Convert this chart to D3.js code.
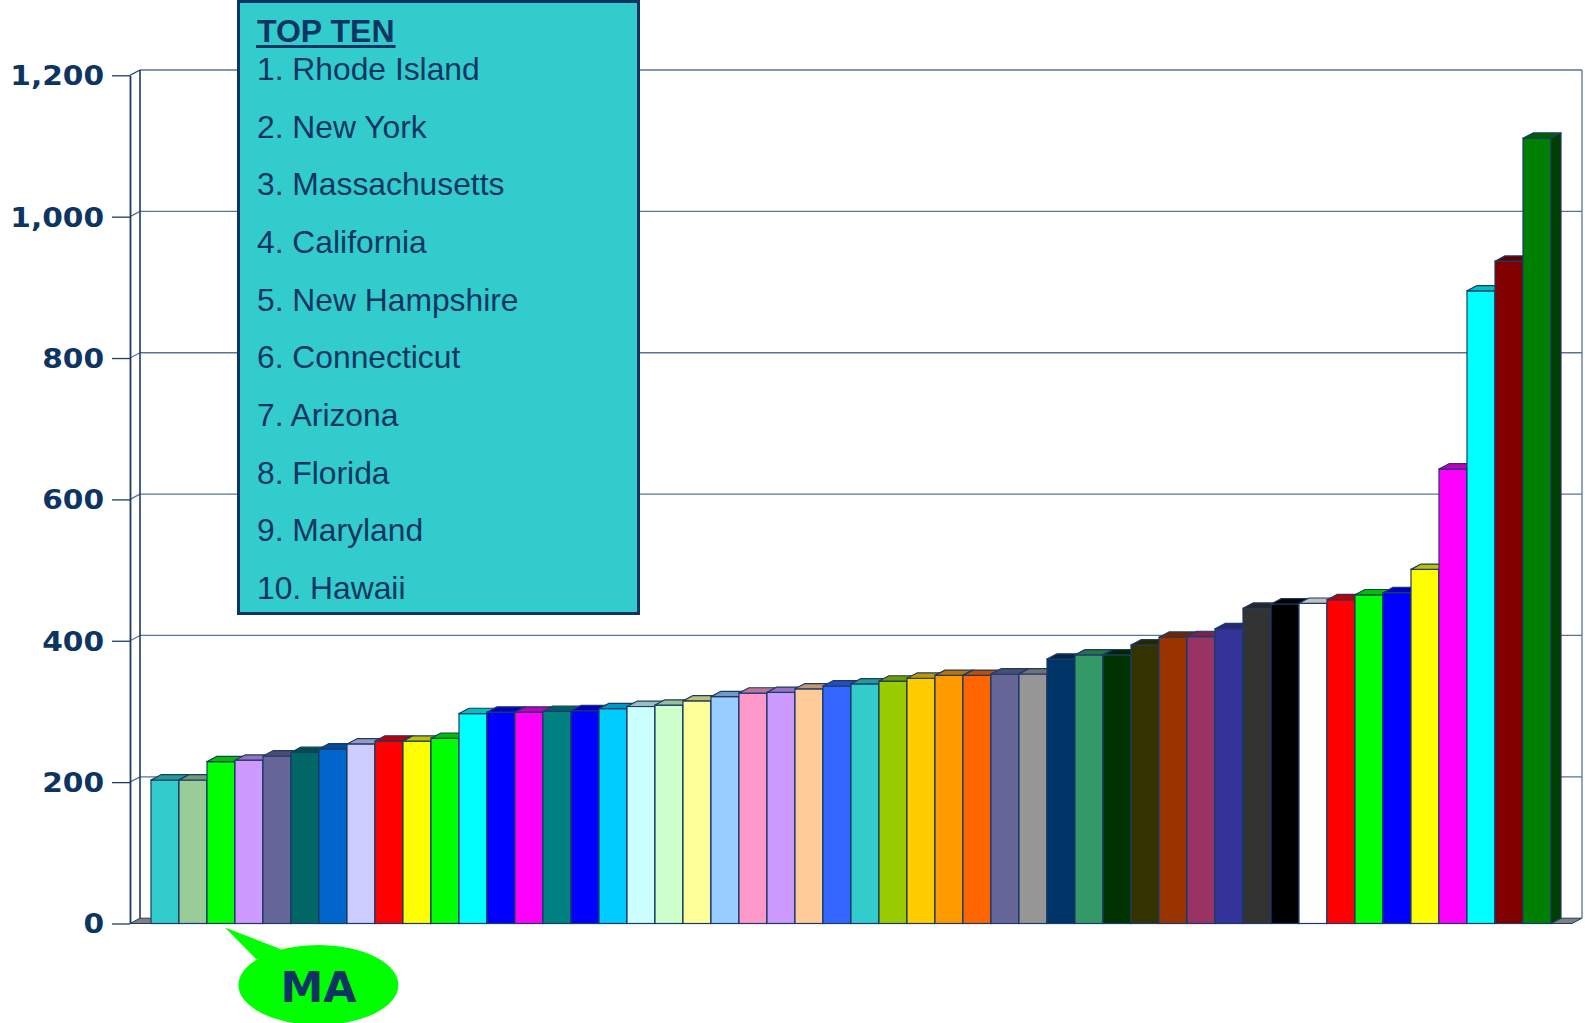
<!DOCTYPE html>
<html>
<head>
<meta charset="utf-8">
<script src="https://cdn.jsdelivr.net/npm/d3@7"></script>
<style>
  html, body { margin: 0; padding: 0; background: #ffffff; }
  svg { display: block; }
</style>
</head>
<body>
<svg id="chart" width="1585" height="1023"></svg>
<script>
// Ranked positions (lowest value first) and their values
const ranks = d3.range(1, 51);
const values = [
  203, 203, 229, 231, 237, 242, 247, 254, 258, 258,
  262, 297, 299, 299, 300, 301, 304, 307, 309, 315,
  321, 326, 327, 332, 336, 339, 343, 347, 351, 351,
  353, 353, 374, 380, 380, 394, 405, 406, 417, 446,
  452, 453, 458, 465, 468, 501, 643, 895, 937, 1111
];
// Fill colour of each column, left to right
const palette = [
  "#33CCCC", "#99CC99", "#00FF00", "#CC99FF", "#666699", "#006666", "#0066CC", "#CCCCFF", "#FF0000", "#FFFF00",
  "#00FF00", "#00FFFF", "#0000FF", "#FF00FF", "#008080", "#0000FF", "#00CCFF", "#CCFFFF", "#CCFFCC", "#FFFF99",
  "#99CCFF", "#FF99CC", "#CC99FF", "#FFCC99", "#3366FF", "#33CCCC", "#99CC00", "#FFCC00", "#FF9900", "#FF6600",
  "#666699", "#969696", "#003366", "#339966", "#003300", "#333300", "#993300", "#993366", "#333399", "#333333",
  "#000000", "#FFFFFF", "#FF0000", "#00FF00", "#0000FF", "#FFFF00", "#FF00FF", "#00FFFF", "#800000", "#008000"
];
const tickValues = [0, 200, 400, 600, 800, 1000, 1200];
const legendTitle = "TOP TEN";
const topTen = [
  "1. Rhode Island", "2. New York", "3. Massachusetts", "4. California", "5. New Hampshire",
  "6. Connecticut", "7. Arizona", "8. Florida", "9. Maryland", "10. Hawaii"
];
const calloutLabel = "MA";
const calloutRank = 3;

const NAVY = "#0d3563";
const EDGE = "#1b3b66";
const GRID = "#5a7396";
const DX = 10, DY = 5.3;   // depth offset of the 3-D walls and columns

const svg = d3.select("#chart");

const x = d3.scaleBand().domain(ranks).range([130, 1572]).paddingInner(0).paddingOuter(0.75);
const y = d3.scaleLinear().domain([0, 1200]).range([923.5, 75.3]);
const [xL, xR] = x.range();
const y0 = y(0), yTop = y(1200);

// Walls: back-wall gridlines, left wall and right edge
const walls = svg.append("g");
walls.selectAll("line.grid")
  .data(tickValues.filter(d => d > 0))
  .join("line")
  .attr("class", "grid")
  .attr("x1", xL + DX).attr("x2", xR + DX)
  .attr("y1", d => y(d) - DY).attr("y2", d => y(d) - DY)
  .attr("stroke", GRID).attr("stroke-width", 1.3);
walls.selectAll("line.diag")
  .data(tickValues.filter(d => d > 0))
  .join("line")
  .attr("class", "diag")
  .attr("x1", xL).attr("x2", xL + DX)
  .attr("y1", d => y(d)).attr("y2", d => y(d) - DY)
  .attr("stroke", d => d === 1200 ? EDGE : GRID).attr("stroke-width", 1.3);
walls.append("line")
  .attr("x1", xL + DX).attr("x2", xL + DX)
  .attr("y1", yTop - DY).attr("y2", y0 - DY)
  .attr("stroke", EDGE).attr("stroke-width", 1.6);
walls.append("line")
  .attr("x1", xR + DX).attr("x2", xR + DX)
  .attr("y1", yTop - DY).attr("y2", y0 - DY)
  .attr("stroke", GRID).attr("stroke-width", 1.3);

// Floor slab
svg.append("path")
  .attr("d", `M${xL},${y0}L${xL + DX},${y0 - DY}L${xR + DX},${y0 - DY}L${xR},${y0}Z`)
  .attr("fill", "#808080").attr("stroke", EDGE).attr("stroke-width", 1);

// Value axis on the front-left edge
const axis = svg.append("g")
  .attr("transform", `translate(${xL},0)`)
  .call(d3.axisLeft(y).tickValues(tickValues).tickFormat(d3.format(",")).tickSize(18).tickSizeOuter(0));
axis.select(".domain").attr("stroke", EDGE).attr("stroke-width", 1.8);
axis.selectAll(".tick line").attr("stroke", EDGE).attr("stroke-width", 1.3);
axis.selectAll(".tick text")
  .attr("x", 0).attr("dy", "0.36em")
  .attr("transform", "translate(-26,0) scale(1.14,1)")
  .attr("text-anchor", "end")
  .attr("fill", NAVY)
  .style("font-family", "'DejaVu Sans', Verdana, sans-serif")
  .style("font-weight", "bold")
  .style("font-size", "26px");

// 3-D columns, drawn left to right so each one hides its neighbour's side face
const data = ranks.map((r, i) => ({ rank: r, value: values[i], color: palette[i] }));
const bars = svg.append("g").selectAll("g").data(data).join("g");
const w = x.bandwidth();
bars.append("rect")
  .attr("x", d => x(d.rank)).attr("y", d => y(d.value))
  .attr("width", w).attr("height", d => y0 - y(d.value))
  .attr("fill", d => d.color)
  .attr("stroke", EDGE).attr("stroke-width", 1.2);
bars.append("path")
  .attr("d", d => {
    const x0 = x(d.rank), yt = y(d.value);
    return `M${x0},${yt}L${x0 + DX},${yt - DY}L${x0 + w + DX},${yt - DY}L${x0 + w},${yt}Z`;
  })
  .attr("fill", d => d3.rgb(d.color).darker(0.8))
  .attr("stroke", EDGE).attr("stroke-width", 1.2).attr("stroke-linejoin", "round");
bars.append("path")
  .attr("d", d => {
    const x0 = x(d.rank) + w, yt = y(d.value);
    return `M${x0},${yt}L${x0 + DX},${yt - DY}L${x0 + DX},${y0 - DY}L${x0},${y0}Z`;
  })
  .attr("fill", d => d3.rgb(d.color).darker(2))
  .attr("stroke", EDGE).attr("stroke-width", 1.2).attr("stroke-linejoin", "round");

// Legend box listing the top ten
const legend = svg.append("g");
legend.append("rect")
  .attr("x", 238.5).attr("y", 1.5).attr("width", 400).attr("height", 612)
  .attr("fill", "#33CCCC").attr("stroke", NAVY).attr("stroke-width", 3);
const title = legend.append("text")
  .attr("x", 257).attr("y", 41.5)
  .attr("fill", NAVY)
  .style("font-family", "'Liberation Sans', Arial, sans-serif")
  .style("font-weight", "bold")
  .style("font-size", "32px")
  .text(legendTitle);
const tw = title.node().getComputedTextLength();
legend.append("line")
  .attr("x1", 256).attr("x2", 258 + tw)
  .attr("y1", 46.5).attr("y2", 46.5)
  .attr("stroke", NAVY).attr("stroke-width", 3.2);
legend.selectAll("text.item")
  .data(topTen)
  .join("text")
  .attr("class", "item")
  .attr("x", 257).attr("y", (d, i) => 80 + i * 57.65)
  .attr("fill", NAVY)
  .style("font-family", "'Liberation Sans', Arial, sans-serif")
  .style("font-size", "31.8px")
  .text(d => d);

// Speech-bubble callout pointing at the highlighted column
const bx = x(calloutRank), tipX = bx + w * 0.64, tipY = y0 + 4;
const cx = tipX + 93.5, cy = 985;
const callout = svg.append("g");
callout.append("path")
  .attr("d", `M${tipX},${tipY}L${tipX + 31.5},${tipY + 32}L${tipX + 56.5},${tipY + 22}Z`)
  .attr("fill", "#00FF00");
callout.append("ellipse")
  .attr("cx", cx).attr("cy", cy).attr("rx", 80).attr("ry", 40)
  .attr("fill", "#00FF00");
callout.append("text")
  .attr("x", cx).attr("y", 1001.5)
  .attr("text-anchor", "middle")
  .attr("fill", NAVY)
  .style("font-family", "'DejaVu Sans', Verdana, sans-serif")
  .style("font-weight", "bold")
  .style("font-size", "43px")
  .text(calloutLabel);
</script>
</body>
</html>
